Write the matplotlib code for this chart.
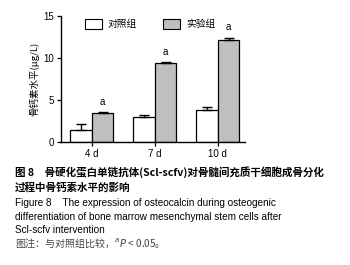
import matplotlib
matplotlib.use("Agg")
import matplotlib.pyplot as plt
from matplotlib.patches import Rectangle
import numpy as np

categories = ["4 d", "7 d", "10 d"]
control = [1.45, 2.95, 3.85]
control_err = [0.7, 0.25, 0.25]
experiment = [3.42, 9.38, 12.05]
experiment_err = [0.12, 0.15, 0.35]
yticks = [0, 5, 10, 15]
legend_labels = ["对照组", "实验组"]

cjk = ["Noto Sans CJK SC", "DejaVu Sans"]
lat = ["Liberation Sans", "DejaVu Sans"]

fig = plt.figure(figsize=(3.5, 2.65), dpi=100)
ax = fig.add_axes([0.174, 0.464, 0.526, 0.477])

x = np.arange(len(categories))
w = 0.34
ax.bar(x - w/2, control, w, color="white", edgecolor="black", linewidth=0.9, zorder=2)
ax.bar(x + w/2, experiment, w, color="#bfbfbf", edgecolor="black", linewidth=0.9, zorder=2)
ax.errorbar(x - w/2, control, yerr=[np.zeros(3), control_err], fmt="none",
            ecolor="black", elinewidth=1.0, capsize=3.5, capthick=1.0, zorder=3)
ax.errorbar(x + w/2, experiment, yerr=[np.zeros(3), experiment_err], fmt="none",
            ecolor="black", elinewidth=1.0, capsize=3.5, capthick=1.0, zorder=3)
for xi, v, e in zip(x, experiment, experiment_err):
    ax.text(xi + w/2, v + e + 0.6, "a", ha="center", va="bottom", fontsize=7, family=lat)

ax.set_ylim(0, 15)
ax.set_xlim(-0.49, 2.43)
ax.set_yticks(yticks)
ax.set_yticklabels([str(t) for t in yticks], fontsize=7, family=lat)
ax.set_xticks(x)
ax.set_xticklabels(categories, fontsize=7, family=lat)
ax.tick_params(axis="both", direction="out", length=3, width=0.9, pad=2)
for s in ["top", "right"]:
    ax.spines[s].set_visible(False)
for s in ["left", "bottom"]:
    ax.spines[s].set_linewidth(1.0)
ax.set_ylabel("骨钙素水平(μg/L)", fontsize=6.8, family=cjk, labelpad=3)

# manual legend (axes coordinates)
legend_colors = ["white", "#bfbfbf"]
legend_x = [0.130, 0.554]
for lx, col, lab in zip(legend_x, legend_colors, legend_labels):
    ax.add_patch(Rectangle((lx, 0.895), 0.095, 0.075, transform=ax.transAxes,
                           facecolor=col, edgecolor="black", linewidth=0.8, clip_on=False))
    ax.text(lx + 0.125, 0.932, lab, transform=ax.transAxes, fontsize=7, family=cjk,
            va="center", ha="left")

# captions
cx = 0.043
fig.text(cx, 0.351, "图 8　骨硬化蛋白单链抗体(Scl-scfv)对骨髓间充质干细胞成骨分化",
         fontsize=7.6, family=cjk, weight="bold", va="center")
fig.text(cx, 0.294, "过程中骨钙素水平的影响", fontsize=7.6, family=cjk, weight="bold", va="center")
fig.text(cx, 0.234, "Figure 8    The expression of osteocalcin during osteogenic",
         fontsize=7.2, family=lat, va="center")
fig.text(cx, 0.181, "differentiation of bone marrow mesenchymal stem cells after",
         fontsize=7.2, family=lat, va="center")
fig.text(cx, 0.132, "Scl-scfv intervention", fontsize=7.2, family=lat, va="center")
fig.text(cx, 0.083, "图注：与对照组比较，$^{a}$$\\it{P}$ < 0.05。", fontsize=7.2,
         family=cjk, color="#444444", va="center")

fig.savefig("out.png", dpi=100)
